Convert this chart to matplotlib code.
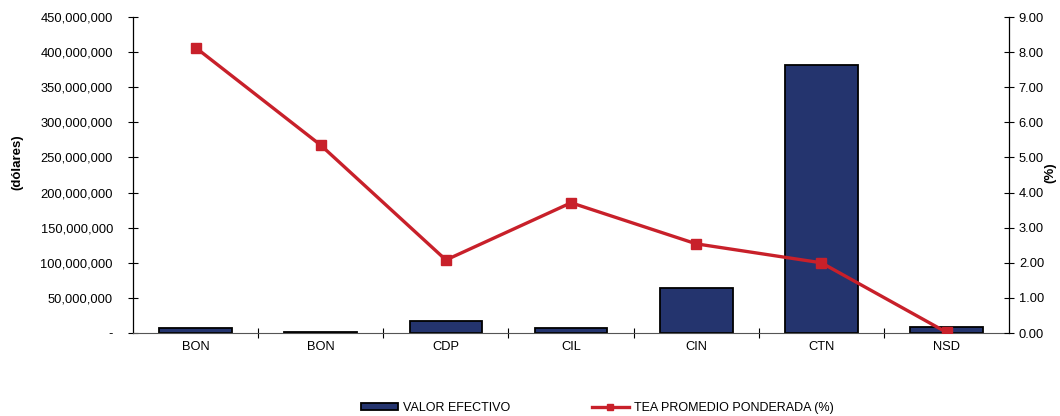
import matplotlib.pyplot as plt
from matplotlib.ticker import FuncFormatter, FixedLocator

plt.rcParams["font.family"] = ["Liberation Sans", "DejaVu Sans"]

categories = ["BON", "BON", "CDP", "CIL", "CIN", "CTN", "NSD"]
valor_efectivo = [7_000_000, 1_200_000, 17_000_000, 7_000_000, 64_000_000, 382_000_000, 8_000_000]
tea_promedio = [8.13, 5.35, 2.08, 3.71, 2.54, 2.00, 0.02]

NAVY = "#24346e"
RED = "#c8202a"


def money_fmt(v, pos):
    if v == 0:
        return "-"
    return f"{v:,.0f}"


def main() -> None:
    fig = plt.figure(figsize=(10.6, 4.16), dpi=100)
    ax = fig.add_axes([0.1255, 0.1995, 0.8265, 0.7595])
    x = list(range(len(categories)))

    bars = ax.bar(x, valor_efectivo, width=0.58, color=NAVY, edgecolor="black",
                  linewidth=1.3, label="VALOR EFECTIVO", zorder=2)
    ax.set_xlim(-0.5, len(categories) - 0.5)
    ax.set_ylim(0, 450_000_000)
    ax.set_yticks(range(0, 450_000_001, 50_000_000))
    ax.yaxis.set_major_formatter(FuncFormatter(money_fmt))
    ax.set_ylabel("(dólares)", fontsize=9.5, fontweight="bold")
    ax.yaxis.set_label_coords(-0.1256, 0.541)

    ax.set_xticks(x)
    ax.set_xticklabels(categories, fontsize=9.3)
    ax.tick_params(axis="x", which="major", length=0, pad=6)
    ax.xaxis.set_minor_locator(FixedLocator([i + 0.5 for i in range(len(categories) - 1)]))
    ax.tick_params(axis="x", which="minor", length=7, direction="inout", width=0.8)
    ax.tick_params(axis="y", length=7, direction="inout", labelsize=9.3, width=0.8, pad=11)

    ax.spines["top"].set_visible(False)
    ax.spines["right"].set_visible(False)
    ax.spines["bottom"].set_color("#555555")
    ax.spines["left"].set_linewidth(0.9)

    ax2 = ax.twinx()
    line, = ax2.plot(x, tea_promedio, color=RED, linewidth=2.4, marker="s",
                     markersize=7, label="TEA PROMEDIO PONDERADA (%)", zorder=3)
    ax2.set_ylim(0, 9)
    ax2.set_yticks(range(10))
    ax2.yaxis.set_major_formatter(FuncFormatter(lambda v, p: f"{v:.2f}"))
    ax2.tick_params(axis="y", length=7, direction="inout", labelsize=9.3, width=0.8)
    ax2.set_ylabel("(%)", fontsize=9.5, fontweight="bold", rotation=90)
    ax2.yaxis.set_label_coords(1.040, 0.509)
    ax2.spines["top"].set_visible(False)
    ax2.spines["left"].set_visible(False)
    ax2.spines["bottom"].set_visible(False)
    ax2.spines["right"].set_linewidth(0.9)

    fig.legend([bars, line], ["VALOR EFECTIVO", "TEA PROMEDIO PONDERADA (%)"],
               loc="center", bbox_to_anchor=(0.5635, 0.02), ncol=2, frameon=False,
               fontsize=9, columnspacing=6.5, handlelength=3.0, handletextpad=0.4,
               handleheight=0.5, markerscale=0.7, borderpad=0)

    fig.savefig("out.png", dpi=100)
    plt.close(fig)


if __name__ == "__main__":
    main()
